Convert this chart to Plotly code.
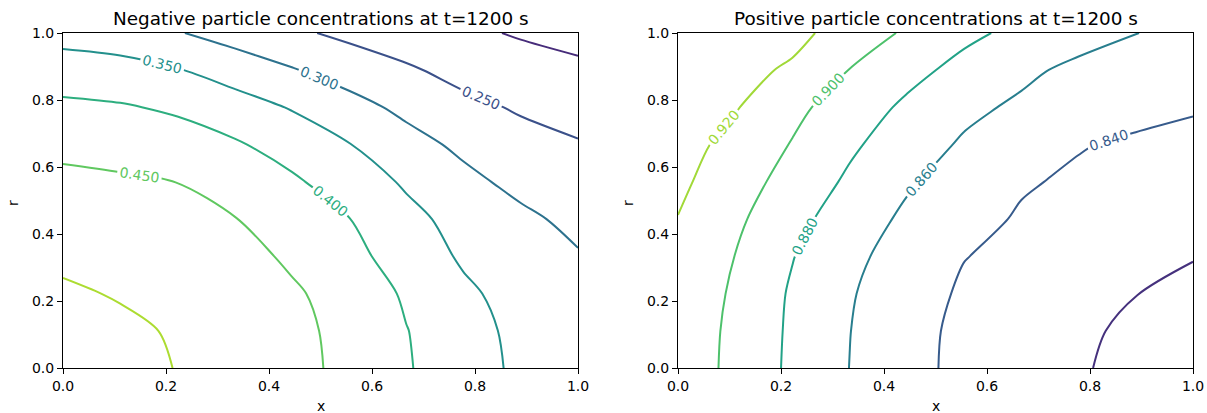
import plotly.graph_objects as go

# grid coordinates (x along the axis, r radial)
x_grid = [0.0, 0.1111, 0.2222, 0.3333, 0.4444, 0.5556, 0.6667, 0.7778, 0.8889, 1.0]
r_grid = [0.0, 0.1111, 0.2222, 0.3333, 0.4444, 0.5556, 0.6667, 0.7778, 0.8889, 1.0]

# Negative particle concentrations (rows: r, columns: x)
neg_conc = [
    [0.523, 0.515, 0.4986, 0.481, 0.461, 0.441, 0.404, 0.371, 0.341, 0.315],
    [0.516, 0.508, 0.496, 0.478, 0.4595, 0.4395, 0.4015, 0.368, 0.338, 0.313],
    [0.506, 0.497, 0.488, 0.472, 0.455, 0.435, 0.393, 0.3586, 0.3322, 0.309],
    [0.4917, 0.4833, 0.476, 0.4635, 0.444, 0.4144, 0.378, 0.3437, 0.3247, 0.3035],
    [0.4759, 0.4696, 0.463, 0.4515, 0.4257, 0.401, 0.363, 0.334, 0.3097, 0.2881],
    [0.46, 0.4558, 0.4496, 0.429, 0.4073, 0.3763, 0.344, 0.312, 0.2873, 0.2707],
    [0.4393, 0.4334, 0.4222, 0.4055, 0.3803, 0.3516, 0.3172, 0.29, 0.2665, 0.2536],
    [0.4102, 0.4047, 0.3928, 0.3715, 0.3469, 0.3171, 0.2886, 0.262, 0.2449, 0.232],
    [0.3741, 0.3665, 0.3529, 0.3284, 0.3035, 0.2789, 0.2561, 0.2357, 0.2202, 0.2092],
    [0.332, 0.325, 0.303, 0.280, 0.2587, 0.239, 0.2246, 0.209, 0.1956, 0.1855],
]

# Positive particle concentrations (rows: r, columns: x)
pos_conc = [
    [0.9133, 0.8945, 0.8764, 0.8598, 0.847, 0.8343, 0.828, 0.8217, 0.815, 0.8095],
    [0.914, 0.8951, 0.8769, 0.8603, 0.8475, 0.8349, 0.8289, 0.8229, 0.8168, 0.8107],
    [0.9158, 0.8968, 0.8777, 0.8615, 0.8492, 0.8373, 0.8316, 0.8259, 0.8203, 0.8147],
    [0.9185, 0.8997, 0.8807, 0.8646, 0.8519, 0.8405, 0.8354, 0.8306, 0.8257, 0.8209],
    [0.9195, 0.9037, 0.8861, 0.87, 0.8565, 0.8458, 0.8382, 0.8341, 0.83, 0.8259],
    [0.9239, 0.9086, 0.8928, 0.8768, 0.8623, 0.8516, 0.8417, 0.8374, 0.8342, 0.831],
    [0.9275, 0.914, 0.8989, 0.8832, 0.8695, 0.8576, 0.8493, 0.841, 0.8375, 0.836],
    [0.931, 0.9213, 0.905, 0.8902, 0.8766, 0.8645, 0.8567, 0.8514, 0.845, 0.8413],
    [0.935, 0.926, 0.9172, 0.8995, 0.8859, 0.8742, 0.8641, 0.8554, 0.852, 0.848],
    [0.938, 0.932, 0.9255, 0.9116, 0.8973, 0.8843, 0.8752, 0.8679, 0.8603, 0.855],
]

tick_vals = [0.0, 0.2, 0.4, 0.6, 0.8, 1.0]
tick_text = ["0.0", "0.2", "0.4", "0.6", "0.8", "1.0"]

titles = ["Negative particle concentrations at t=1200 s",
          "Positive particle concentrations at t=1200 s"]

FONT = "DejaVu Sans"
W, H = 1207, 413

fig = go.Figure()

def add_contour(z, xa, ya, start, end, size):
    fig.add_trace(go.Contour(
        x=x_grid, y=r_grid, z=z, xaxis=xa, yaxis=ya,
        colorscale="Viridis", showscale=False,
        contours=dict(start=start, end=end, size=size, coloring="lines",
                      showlabels=True, labelformat=".3f",
                      labelfont=dict(size=14, family=FONT)),
        line=dict(width=2, smoothing=0.9),
        hoverinfo="skip",
    ))

add_contour(neg_conc, "x", "y", 0.15, 0.55, 0.05)
add_contour(pos_conc, "x2", "y2", 0.80, 0.94, 0.02)

px_left = [(63, 578), (678, 1193)]
top_px, bot_px = 33, 368
ydom = [1 - bot_px / H, 1 - top_px / H]

axis_style = dict(range=[0, 1], showline=True, linecolor="black", linewidth=1,
                  mirror=True, ticks="outside", ticklen=5, tickwidth=1,
                  tickcolor="black", showgrid=False, zeroline=False,
                  automargin=False,
                  tickvals=tick_vals, ticktext=tick_text,
                  tickfont=dict(size=14, family=FONT, color="black"))

annotations = []
for k, (l, r) in enumerate(px_left):
    sfx = "" if k == 0 else str(k + 1)
    fig.layout["xaxis" + sfx] = dict(domain=[l / W, r / W], anchor="y" + sfx, **axis_style)
    fig.layout["yaxis" + sfx] = dict(domain=ydom, anchor="x" + sfx, **axis_style)
    cx = (l + r) / 2 / W
    annotations.append(dict(text=titles[k], x=cx, y=1 - 18 / H, xref="paper", yref="paper",
                            showarrow=False, xanchor="center", yanchor="middle",
                            font=dict(size=18.4, family=FONT, color="black")))
    annotations.append(dict(text="x", x=cx, y=1 - 406 / H, xref="paper", yref="paper",
                            showarrow=False, xanchor="center", yanchor="middle",
                            font=dict(size=14, family=FONT, color="black")))
    annotations.append(dict(text="r", x=(l - 50) / W, y=(1 - 203 / H),
                            xref="paper", yref="paper", textangle=-90,
                            showarrow=False, xanchor="center", yanchor="middle",
                            font=dict(size=14, family=FONT, color="black")))

fig.update_layout(width=W, height=H, margin=dict(l=0, r=0, t=0, b=0),
                  paper_bgcolor="white", plot_bgcolor="white",
                  showlegend=False, annotations=annotations)

fig.write_html("out.html",
               post_script="document.body.style.margin='0';document.body.style.overflow='hidden';")
